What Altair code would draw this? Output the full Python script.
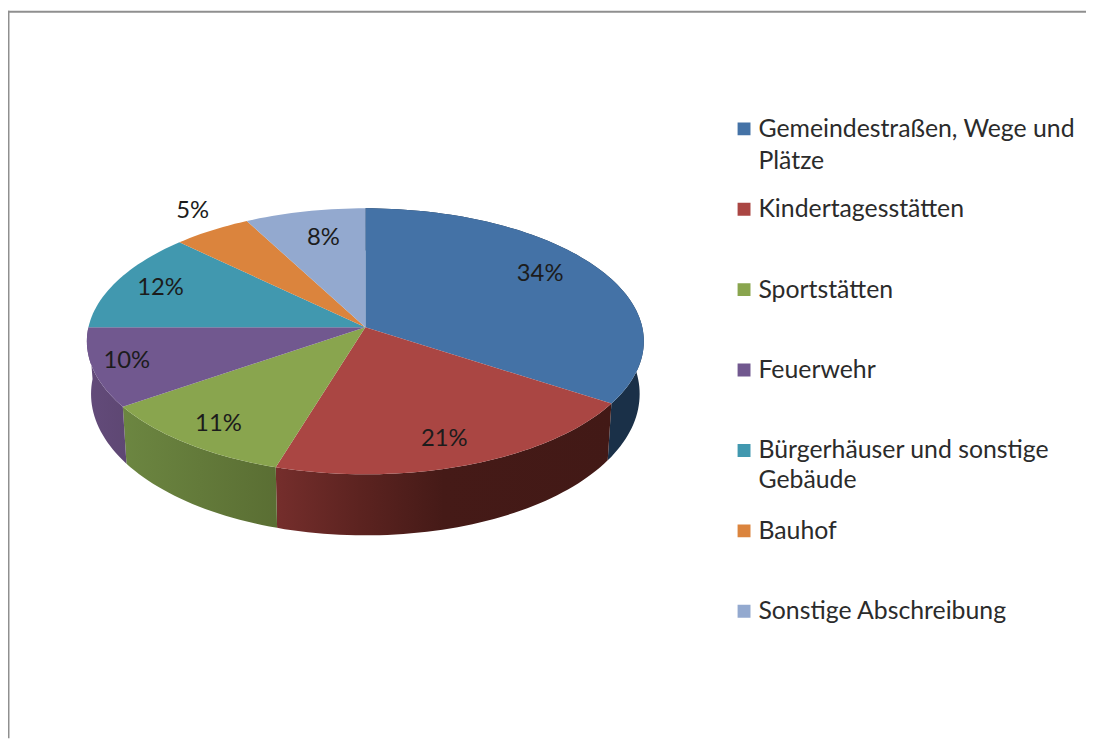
import math
import altair as alt

categories = ["Gemeindestraßen, Wege und\nPlätze", "Kindertagesstätten", "Sportstätten", "Feuerwehr",
              "Bürgerhäuser und sonstige\nGebäude", "Bauhof", "Sonstige Abschreibung"]
values = [34.2, 20.5, 10.7, 9.6, 12.2, 5.05, 7.75]
labels = ["34%", "21%", "11%", "10%", "12%", "5%", "8%"]
colors = ["#4472a6", "#aa4643", "#89a54e", "#71588f", "#4198af", "#db843d", "#93a9cf"]
label_turn = [0.1587, 0.4486, 0.5997, 0.704, 0.8106, 0.902, 0.965]
label_radius = [0.785, 0.825, 0.84, 0.875, 0.822, 1.19, 0.746]

# side walls: category index, gradient stops over the slice's width
side_stops = {
    0: [(0, "#1a3048"), (1, "#1a3048")],
    1: [(0, "#752e2c"), (0.25, "#5c2320"), (0.5, "#451a17"), (1, "#421916")],
    2: [(0, "#6c8641"), (1, "#5a6e33")],
    3: [(0, "#634b7a"), (1, "#5e4773")],
}

RX, RY, K = 279.0, 132.5, 0.105   # disc seen in perspective
DEPTH_BACK, DEPTH_FRONT, SHRINK = 52.0, 9.5, 0.985   # pie thickness
LEGEND_X, LEGEND_Y, ROW, LINE = 729, 78.83, 80.35, 32


def project(turn, r=1.0):
    a = 2 * math.pi * turn
    X, v = r * math.sin(a), -r * math.cos(a)
    d = 1 - K * v
    return RX * X / d, -RY * v / d


def lower(turn):
    x, y = project(turn)
    return x * SHRINK, y - (DEPTH_BACK + DEPTH_FRONT * -math.cos(2 * math.pi * turn))


def turns(t0, t1):
    n = max(2, int((t1 - t0) * 240))
    return [t0 + (t1 - t0) * i / n for i in range(n + 1)]


def feature(ring, **props):
    ring = [list(p) for p in ring]
    ring.append(ring[0])
    return {"type": "Feature", "properties": props,
            "geometry": {"type": "Polygon", "coordinates": [ring]}}


total = sum(values)
edges = [0.0]
for val in values:
    edges.append(edges[-1] + val / total)

tops = [feature([(0.0, 0.0)] + [project(t) for t in turns(edges[i], edges[i + 1])], name=categories[i])
        for i in range(len(values))]

proj = dict(type="identity", reflectY=True, scale=1, translate=[360, 319])

layers = []
for i, stops in side_stops.items():
    ts = turns(edges[i], edges[i + 1])
    ring = [project(t) for t in ts] + [lower(t) for t in reversed(ts)]
    layers.append(
        alt.Chart(alt.Data(values=[feature(ring, name=categories[i])]))
        .mark_geoshape(
            strokeWidth=0,
            fill=alt.Gradient(gradient="linear", x1=0, x2=1, y1=0, y2=0,
                              stops=[alt.GradientStop(offset=o, color=c) for o, c in stops]),
        )
        .project(**proj)
    )

top = (
    alt.Chart(alt.Data(values=tops))
    .mark_geoshape(strokeWidth=0)
    .encode(
        fill=alt.Fill(
            "properties.name:N",
            scale=alt.Scale(domain=categories, range=colors),
            sort=None,
            legend=alt.Legend(
                title=None, orient="none", legendX=LEGEND_X, legendY=LEGEND_Y, padding=0,
                symbolType="square", symbolSize=169, symbolStrokeWidth=0,
                labelFont="Lato", labelFontSize=25, labelColor="#2b2b2b",
                labelOffset=2, labelLimit=400, clipHeight=ROW, rowPadding=0,
                labelExpr="split(datum.label,'\\n')[0]",
            ),
        )
    )
    .project(**proj)
)
layers.append(top)

rows = []
for i, lab in enumerate(labels):
    x, y = project(label_turn[i], label_radius[i])
    rows.append({"lab": lab, "lon": x, "lat": y})
text = (
    alt.Chart(alt.Data(values=rows))
    .mark_text(font="Lato", fontSize=24, color="#1c1c1c", align="center", baseline="middle")
    .encode(longitude="lon:Q", latitude="lat:Q", text="lab:N")
    .project(**proj)
)
layers.append(text)

# second lines of the wrapped legend labels
for i, name in enumerate(categories):
    if "\n" in name:
        layers.append(
            alt.Chart(alt.Data(values=[{"t": name.split("\n")[1]}]))
            .mark_text(font="Lato", fontSize=25, color="#2b2b2b", align="left", baseline="middle")
            .encode(x=alt.value(LEGEND_X + 27), y=alt.value(LEGEND_Y + ROW / 2 + i * ROW + LINE), text="t:N")
        )

frame_left = alt.Chart(alt.Data(values=[{"a": 1}])).mark_rect(color="#8f8f8f").encode(
    x=alt.value(0), x2=alt.value(1.5), y=alt.value(0), y2=alt.value(733))
frame_top = alt.Chart(alt.Data(values=[{"a": 1}])).mark_rect(color="#8f8f8f").encode(
    x=alt.value(0), x2=alt.value(1086), y=alt.value(0), y2=alt.value(2))
layers += [frame_left, frame_top]

chart = (
    alt.layer(*layers)
    .properties(width=1086, height=733, padding=0, autosize="none")
    .configure_view(stroke="transparent", strokeWidth=0)
)
chart.save("out.html", embed_options={"renderer": "svg", "actions": False})
